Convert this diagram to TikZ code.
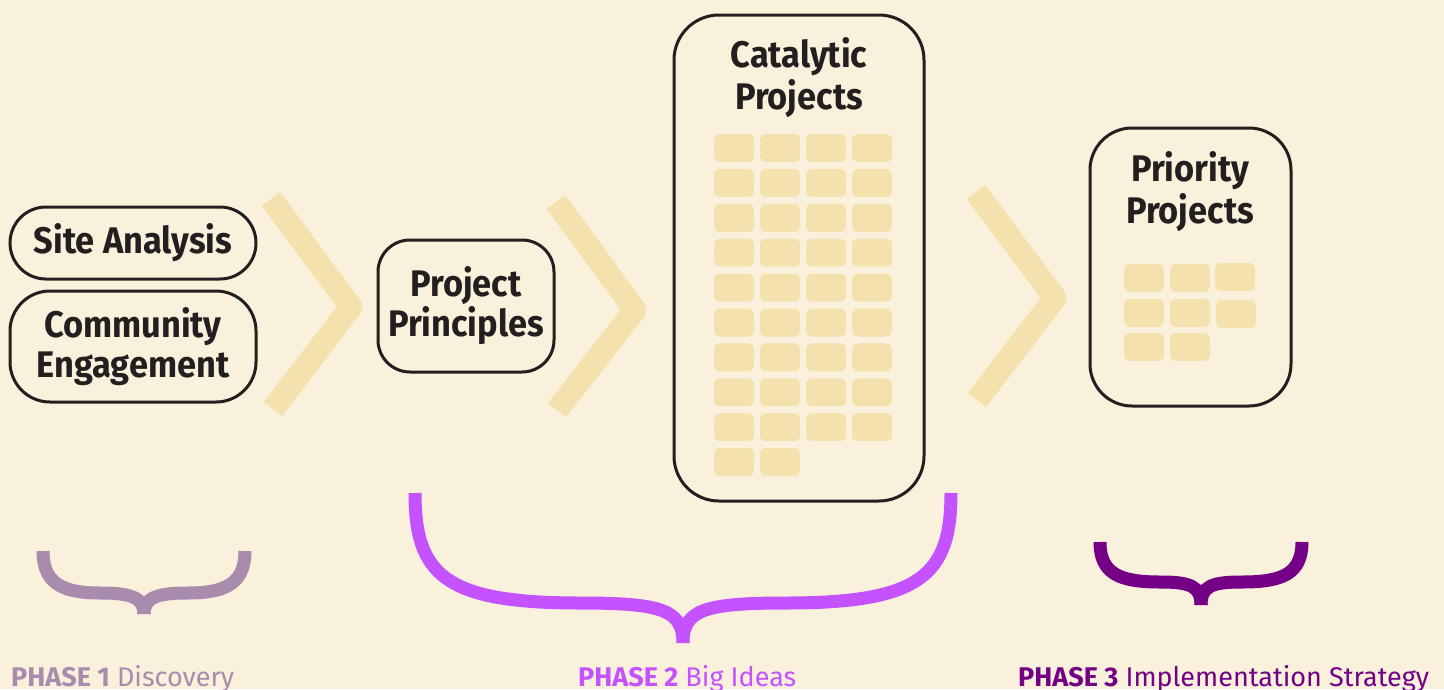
\documentclass[tikz,border=0pt]{standalone}
\usepackage{fontspec}
\setmainfont{Fira Sans}
\newfontfamily\boxfont{Fira Sans}[FakeStretch=0.93]
\usetikzlibrary{positioning}

\definecolor{paper}{HTML}{FAF1DC}
\definecolor{ink}{HTML}{231F20}
\definecolor{tilecol}{HTML}{F3E1AE}
\definecolor{phaseone}{HTML}{A88BAD}
\definecolor{phasetwo}{HTML}{C452FF}
\definecolor{phasethree}{HTML}{740086}

\tikzset{
    stagebox/.style={draw=ink, line width=3pt, fill=paper, text=ink, align=center, inner sep=0pt,
        font=\boxfont\bfseries\fontsize{37}{40}\selectfont},
    titletext/.style={text=ink, align=center, inner sep=0pt,
        font=\boxfont\bfseries\fontsize{37}{42}\selectfont},
    tile/.style={fill=tilecol, rounded corners=6pt},
    chevron/.style={draw=tilecol, line width=23pt, line join=round},
    phasebrace/.style={line width=13pt},
    phaselabel/.style={anchor=base west, inner sep=0pt, font=\fontsize{27}{30}\selectfont},
}

\begin{document}
\begin{tikzpicture}[x=1pt,y=-1pt]
    \useasboundingbox (0,0) rectangle (1444,689);
    \fill [paper] (0,0) rectangle (1444,689);

    \begin{scope}
        \draw [chevron] (271,199) -- (351,307) -- (273,409);
        \draw [chevron] (556,202) -- (635,310) -- (557,410);
        \draw [chevron] (976,192) -- (1055,298) -- (977,400);
    \end{scope}

    \node [stagebox, rounded corners=36pt, minimum width=246pt, minimum height=72pt] (site) at (133,243) {Site Analysis};
    \node [stagebox, rounded corners=40pt, minimum width=246pt, minimum height=111pt] (community) at (133,346.5) {Community\\Engagement};
    \node [stagebox, rounded corners=32pt, minimum width=176pt, minimum height=132pt] (principles) at (466,306) {Project\\Principles};
    \node [stagebox, rounded corners=45pt, minimum width=250pt, minimum height=486pt] (catalytic) at (799,258) {};
    \node [stagebox, rounded corners=42pt, minimum width=201pt, minimum height=278pt] (priority) at (1190.5,267) {};

    \node [titletext] (catalytictitle) at (799,78) {Catalytic\\Projects};
    \node [titletext] (prioritytitle) at (1190,192) {Priority\\Projects};

    \foreach \r in {0,...,8}{%
        \foreach \c in {0,...,3}{%
            \fill [tile] (714+46*\c,134+34.9*\r) rectangle +(40,28);}}
    \foreach \c in {0,1}{%
        \fill [tile] (714+46*\c,448) rectangle +(40,28);}

    \foreach \x/\y in {1124/264,1170/264,1215/263,1124/299,1170/299,1216/300,1124/333,1170/333}{%
        \fill [tile] (\x,\y) rectangle +(40,28);}

    \begin{scope}[phasebrace]
        \draw [phaseone] (43,551) .. controls (43,583) and (62,593) .. (100,593) .. controls (132,593) and (144,598) .. (144,614);
        \draw [phaseone] (245,551) .. controls (245,583) and (226,593) .. (188,593) .. controls (156,593) and (144,598) .. (144,614);
        \draw [phasetwo] (415,493) .. controls (415,575) and (445,603) .. (580,603) .. controls (662,603) and (683,610) .. (683,643);
        \draw [phasetwo] (951,493) .. controls (951,575) and (921,603) .. (786,603) .. controls (704,603) and (683,610) .. (683,643);
        \draw [phasethree] (1100,542) .. controls (1100,574) and (1120,582) .. (1160,582) .. controls (1190,582) and (1201,586) .. (1201,605);
        \draw [phasethree] (1302,542) .. controls (1302,574) and (1282,582) .. (1242,582) .. controls (1212,582) and (1201,586) .. (1201,605);
    \end{scope}

    \node [phaselabel, text=phaseone] (phase1) at (11,686) {\textbf{PHASE 1} Discovery};
    \node [phaselabel, text=phasetwo] (phase2) at (578,686) {\textbf{PHASE 2} Big Ideas};
    \node [phaselabel, text=phasethree] (phase3) at (1018,686) {\textbf{PHASE 3} Implementation Strategy};
\end{tikzpicture}
\end{document}
